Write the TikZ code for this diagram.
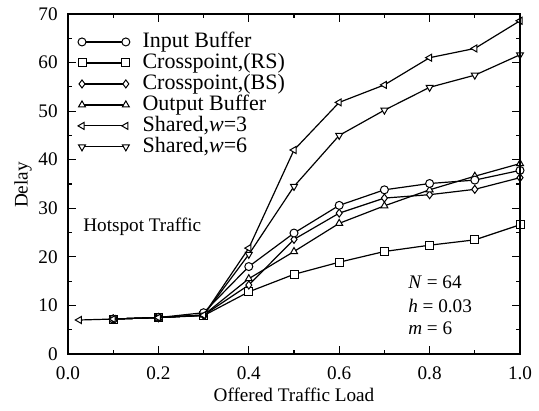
\documentclass[tikz,border=0pt]{standalone}
\usepackage{fontspec}
\setmainfont{Liberation Serif}
\usetikzlibrary{plotmarks}
\tikzset{
        frame/.style={line width=0.9pt}, % the axis box
        tickmark/.style={line width=0.6pt},
        curve/.style={line width=0.6pt, mark size=2pt}, % every data line
        ib/.style={curve, mark=*, mark options={fill=white, line width=0.5pt}},
        rs/.style={curve, mark=square*, mark options={fill=white, line width=0.5pt}},
        bs/.style={curve, mark=diamond*, mark options={fill=white, line width=0.5pt}},
        ob/.style={curve, mark=triangle*, mark options={fill=white, line width=0.5pt}},
        wthree/.style={curve, mark=triangle*, mark options={fill=white, line width=0.5pt, rotate=90}},
        wsix/.style={curve, mark=triangle*, mark options={fill=white, line width=0.5pt, rotate=180}},
        lbl/.style={font=\fontsize{9.6}{11}\selectfont, inner sep=0pt}, % all texts
        leglbl/.style={lbl, font=\fontsize{11}{13}\selectfont, anchor=west}, % legend texts
    }

\begin{document}
\begin{tikzpicture}[x=226pt, y=2.4286pt]
    \useasboundingbox (-0.1504,-11.53) rectangle (1.042,72.88);
    % data
    \draw[rs] plot coordinates {(0.1,7.2) (0.2,7.5) (0.3,7.9) (0.4,12.8) (0.5,16.4) (0.6,18.9) (0.7,21.1) (0.8,22.4) (0.9,23.5) (1.0,26.6)};
    \draw[bs] plot coordinates {(0.1,7.2) (0.2,7.5) (0.3,8) (0.4,14.2) (0.5,23.6) (0.6,29) (0.7,32.1) (0.8,32.8) (0.9,33.9) (1.0,36.3)};
    \draw[ob] plot coordinates {(0.1,7.2) (0.2,7.5) (0.3,8) (0.4,15.5) (0.5,21.1) (0.6,26.9) (0.7,30.5) (0.8,33.8) (0.9,36.6) (1.0,39.2)};
    \draw[ib] plot coordinates {(0.1,7.2) (0.2,7.5) (0.3,8.5) (0.4,18) (0.5,24.9) (0.6,30.6) (0.7,33.8) (0.8,35.1) (0.9,35.8) (1.0,37.8)};
    \draw[wsix] plot coordinates {(0.1,7.2) (0.2,7.5) (0.3,8) (0.4,20.5) (0.5,34.5) (0.6,45) (0.7,50.2) (0.8,54.9) (0.9,57.4) (1.0,61.6)};
    \draw[wthree] plot coordinates {(0.025,7) (0.1,7.2) (0.2,7.5) (0.3,8) (0.4,21.8) (0.5,42) (0.6,51.8) (0.7,55.4) (0.8,61) (0.9,62.9) (1.0,68.6)};
    % axes
    \draw[frame] (0,0) rectangle (1,70);
    \foreach \y in {0,10,...,70} {
      \draw[tickmark] (0,\y) -- ++(4pt,0);
      \draw[tickmark] (1,\y) -- ++(-4pt,0);
      \node[lbl, anchor=east] (ytick\y) at (-0.022,\y) {\y};
    }
    \foreach \y in {5,15,...,65} {
      \draw[tickmark] (0,\y) -- ++(2pt,0);
      \draw[tickmark] (1,\y) -- ++(-2pt,0);
    }
    \foreach \x/\t in {0/0.0,0.2/0.2,0.4/0.4,0.6/0.6,0.8/0.8,1/1.0} {
      \draw[tickmark] (\x,0) -- ++(0,4pt);
      \draw[tickmark] (\x,70) -- ++(0,-4pt);
      \node[lbl] (xtick\t) at (\x,-3.9) {\t};
    }
    \foreach \x in {0.1,0.3,0.5,0.7,0.9} {
      \draw[tickmark] (\x,0) -- ++(0,2pt);
      \draw[tickmark] (\x,70) -- ++(0,-2pt);
    }
    \node[lbl] (xlabel) at (0.5,-8.4) {Offered Traffic Load};
    \node[lbl, rotate=90] (ylabel) at (-0.0996,34.8) {Delay};
    % legend
    \draw[ib] plot coordinates {(0.031,64.24) (0.128,64.24)};
    \draw[rs] plot coordinates {(0.031,59.92) (0.128,59.92)};
    \draw[bs] plot coordinates {(0.031,55.6) (0.128,55.6)};
    \draw[ob] plot coordinates {(0.031,51.28) (0.128,51.28)};
    \draw[wthree] plot coordinates {(0.031,46.96) (0.128,46.96)};
    \draw[wsix] plot coordinates {(0.031,42.64) (0.128,42.64)};
    \node[leglbl] (leg1) at (0.164,64.24) {Input Buffer};
    \node[leglbl] (leg2) at (0.164,59.92) {Crosspoint,(RS)};
    \node[leglbl] (leg3) at (0.164,55.6) {Crosspoint,(BS)};
    \node[leglbl] (leg4) at (0.164,51.28) {Output Buffer};
    \node[leglbl] (leg5) at (0.164,46.96) {Shared,\textit{w}=3};
    \node[leglbl] (leg6) at (0.164,42.64) {Shared,\textit{w}=6};
    % notes
    \node[lbl, anchor=west] (traffic) at (0.033,26.1) {Hotspot Traffic};
    \node[lbl, anchor=west] (pN) at (0.752,14.8) {\textit{N} = 64};
    \node[lbl, anchor=west] (ph) at (0.752,9.9) {\textit{h} = 0.03};
    \node[lbl, anchor=west] (pm) at (0.752,5.35) {\textit{m} = 6};
\end{tikzpicture}
\end{document}
